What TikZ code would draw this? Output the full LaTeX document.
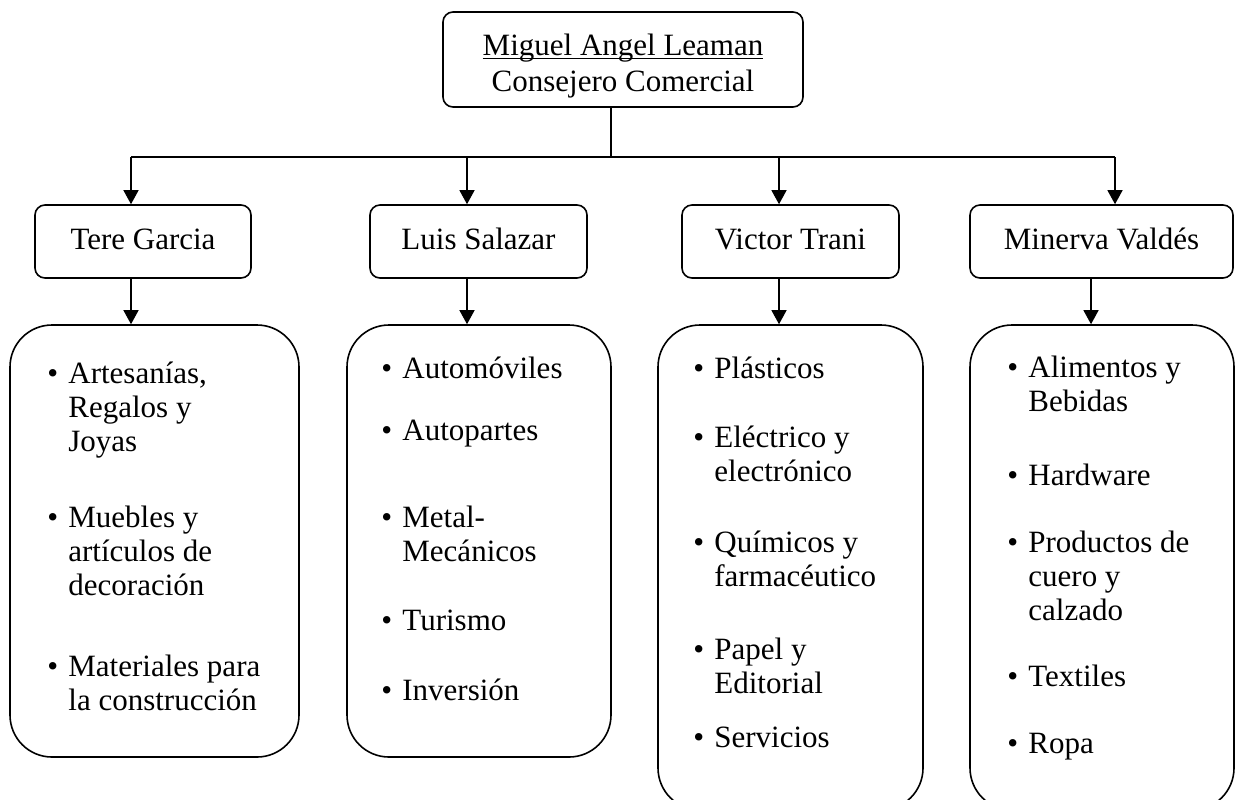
\documentclass[tikz,border=0pt]{standalone}
\usepackage{fontspec}
\setmainfont{Liberation Serif}
\usetikzlibrary{arrows.meta}
\usetikzlibrary{positioning}

\newsavebox{\subbox}
\newcommand{\subrayado}[1]{\sbox{\subbox}{#1}\rlap{\rule[-2pt]{\wd\subbox}{0.7pt}}\usebox{\subbox}}
\newcommand{\punto}[1]{\makebox[10.5pt][l]{\textbullet}\begin{tabular}[t]{@{}l@{}}#1\end{tabular}}
\newcommand{\letra}{\fontsize{15.5}{18}\selectfont}
\newcommand{\letralista}{\fontsize{15.5}{17}\selectfont}

\tikzset{
    jefe/.style={draw, rounded corners=5pt, line width=0.8pt, minimum width=180pt, minimum height=47.5pt, inner sep=0pt, font=\letra},
    persona/.style={draw, rounded corners=5pt, line width=0.8pt, minimum height=36.5pt, text height=10.5pt, text depth=3pt, font=\letra},
    lista/.style={draw, rounded corners=21pt, line width=0.8pt, inner sep=0pt},
    sector/.style={anchor=base west, inner sep=0pt, font=\letralista},
    linea/.style={line width=0.65pt},
    flecha/.style={line width=0.65pt, -{Triangle[width=7.5pt,length=7pt]}}
}

\begin{document}
\begin{tikzpicture}[x=0.5pt, y=-0.5pt]
        \useasboundingbox (0,0) rectangle (1235,799);

        % consejero
        \node[jefe] (mal) at (623,59.5) {\begin{tabular}{@{}c@{}}\rule{0pt}{18.9pt}\subrayado{Miguel Angel Leaman}\\Consejero Comercial\end{tabular}};

        % personas
        \node[persona, minimum width=108pt] (tg) at (143,241.5) {Tere Garcia};
        \node[persona, minimum width=108.5pt] (ls) at (478.5,241.5) {Luis Salazar};
        \node[persona, minimum width=108.5pt] (vt) at (790.5,241.5) {Victor Trani};
        \node[persona, minimum width=131.5pt] (mv) at (1101.5,241.5) {Minerva Valdés};

        % listas
        \node[lista, minimum width=144.5pt, minimum height=216pt] (ltg) at (154.5,541) {};
        \node[lista, minimum width=132pt, minimum height=216pt] (lls) at (479,541) {};
        \node[lista, minimum width=132.5pt, minimum height=242.5pt] (lvt) at (790.5,567.5) {};
        \node[lista, minimum width=132pt, minimum height=242.5pt] (lmv) at (1102,567.5) {};

        % conectores
        \coordinate (bus) at (611,157);
        \foreach \n/\x/\d in {tg/131/131, ls/467/467, vt/779/779, mv/1115/1091} {
            \coordinate (b\n) at (\x,157);
            \coordinate (d\n) at (\d,0);
        }
        \draw[linea] (bus |- mal.south) -- (bus);
        \draw[linea] (btg) -- (bmv);
        \foreach \n in {tg,ls,vt,mv} {
            \draw[flecha] (b\n) -- (b\n |- \n.north);
            \draw[flecha] (d\n |- \n.south) -- (d\n |- l\n.north);
        }

        % Tere Garcia
        \node[sector] (tg1) at (47,383) {\punto{Artesanías,\\Regalos y\\Joyas}};
        \node[sector] (tg2) at (47,527) {\punto{Muebles y\\artículos de\\decoración}};
        \node[sector] (tg3) at (47,676) {\punto{Materiales para\\la construcción}};

        % Luis Salazar
        \node[sector] (ls1) at (381,378) {\punto{Automóviles}};
        \node[sector] (ls2) at (381,440) {\punto{Autopartes}};
        \node[sector] (ls3) at (381,527) {\punto{Metal-\\Mecánicos}};
        \node[sector] (ls4) at (381,630) {\punto{Turismo}};
        \node[sector] (ls5) at (381,700) {\punto{Inversión}};

        % Victor Trani
        \node[sector] (vt1) at (693,378) {\punto{Plásticos}};
        \node[sector] (vt2) at (693,447) {\punto{Eléctrico y\\electrónico}};
        \node[sector] (vt3) at (693,552) {\punto{Químicos y\\farmacéutico}};
        \node[sector] (vt4) at (693,659) {\punto{Papel y\\Editorial}};
        \node[sector] (vt5) at (693,747) {\punto{Servicios}};

        % Minerva Valdes
        \node[sector] (mv1) at (1007,377) {\punto{Alimentos y\\Bebidas}};
        \node[sector] (mv2) at (1007,485) {\punto{Hardware}};
        \node[sector] (mv3) at (1007,552) {\punto{Productos de\\cuero y\\calzado}};
        \node[sector] (mv4) at (1007,686) {\punto{Textiles}};
        \node[sector] (mv5) at (1007,753) {\punto{Ropa}};
\end{tikzpicture}
\end{document}
